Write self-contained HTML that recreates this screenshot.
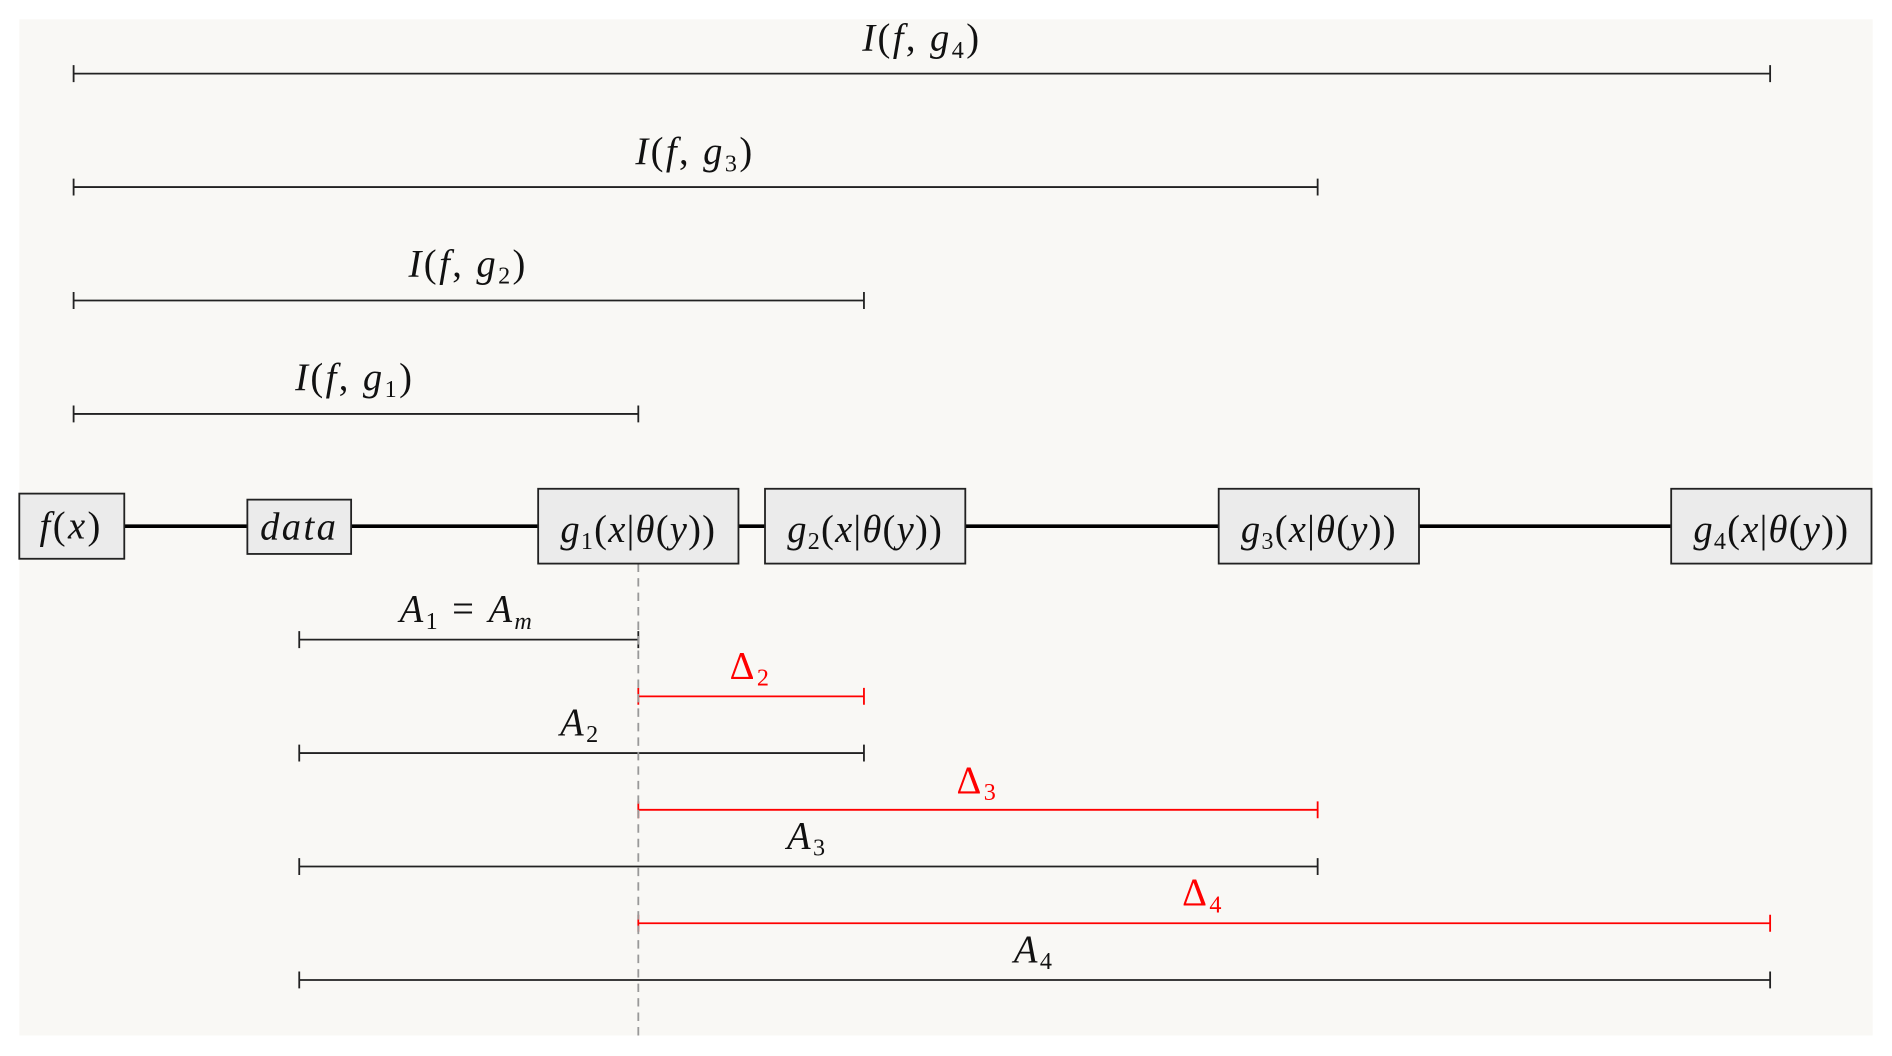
<!DOCTYPE html>
<html><head><meta charset="utf-8"><style>
html,body{margin:0;padding:0;background:#fff;}
svg{display:block;}
text{font-family:"Liberation Serif",serif;font-style:italic;font-size:32px;text-anchor:middle;letter-spacing:2px;}
.n{font-style:normal;}
</style></head><body>
<svg width="1892" height="1056" viewBox="0 0 1568 875" preserveAspectRatio="none" xmlns="http://www.w3.org/2000/svg">
<rect x="16" y="16" width="1536" height="842" fill="#f9f8f5"/>
<g stroke="#222" stroke-width="1.5" fill="none">
<path d="M61 61H1467M61 54V68M1467 54V68"/>
<path d="M61 155H1092M61 148V162M1092 148V162"/>
<path d="M61 249H716M61 242V256M716 242V256"/>
<path d="M61 343H529M61 336V350M529 336V350"/>
<path d="M248 530H529M248 523V537M529 523V537"/>
<path d="M248 624H716M248 617V631M716 617V631"/>
<path d="M248 718H1092M248 711V725M1092 711V725"/>
<path d="M248 812H1467M248 805V819M1467 805V819"/>
</g>
<g stroke="#f00" stroke-width="1.5" fill="none">
<path d="M529 577H716M529 570V584M716 570V584"/>
<path d="M529 671H1092M529 664V678M1092 664V678"/>
<path d="M529 765H1467M529 758V772M1467 758V772"/>
</g>
<line x1="529" y1="467" x2="529" y2="858" stroke="#999" stroke-width="1.5" stroke-dasharray="7,5"/>
<line x1="103" y1="436" x2="1385" y2="436" stroke="#000" stroke-width="3"/>
<g fill="#ebebeb" stroke="#222" stroke-width="1.5">
<rect x="16" y="409" width="87" height="54"/>
<rect x="205" y="414" width="86" height="45"/>
<rect x="446" y="405" width="166" height="62"/>
<rect x="634" y="405" width="166" height="62"/>
<rect x="1010" y="405" width="166" height="62"/>
<rect x="1385" y="405" width="166" height="62"/>
</g>
<g fill="#111">
<text x="59" y="446">f<tspan class="n">(</tspan>x<tspan class="n">)</tspan></text>
<text x="248" y="447">data</text>
<text x="529" y="449" style="letter-spacing:1px">g<tspan class="n" font-size="20" dy="6">1</tspan><tspan class="n" dy="-6">(</tspan>x<tspan class="n">|</tspan>θ<tspan class="n">(</tspan>y<tspan class="n">))</tspan></text>
<text x="717" y="449" style="letter-spacing:1px">g<tspan class="n" font-size="20" dy="6">2</tspan><tspan class="n" dy="-6">(</tspan>x<tspan class="n">|</tspan>θ<tspan class="n">(</tspan>y<tspan class="n">))</tspan></text>
<text x="1093" y="449" style="letter-spacing:1px">g<tspan class="n" font-size="20" dy="6">3</tspan><tspan class="n" dy="-6">(</tspan>x<tspan class="n">|</tspan>θ<tspan class="n">(</tspan>y<tspan class="n">))</tspan></text>
<text x="1468" y="449" style="letter-spacing:1px">g<tspan class="n" font-size="20" dy="6">4</tspan><tspan class="n" dy="-6">(</tspan>x<tspan class="n">|</tspan>θ<tspan class="n">(</tspan>y<tspan class="n">))</tspan></text>
<text x="764" y="42">I<tspan class="n">(</tspan>f<tspan class="n">, </tspan>g<tspan class="n" font-size="20" dy="6">4</tspan><tspan class="n" dy="-6">)</tspan></text>
<text x="576" y="136">I<tspan class="n">(</tspan>f<tspan class="n">, </tspan>g<tspan class="n" font-size="20" dy="6">3</tspan><tspan class="n" dy="-6">)</tspan></text>
<text x="388" y="229">I<tspan class="n">(</tspan>f<tspan class="n">, </tspan>g<tspan class="n" font-size="20" dy="6">2</tspan><tspan class="n" dy="-6">)</tspan></text>
<text x="294" y="323">I<tspan class="n">(</tspan>f<tspan class="n">, </tspan>g<tspan class="n" font-size="20" dy="6">1</tspan><tspan class="n" dy="-6">)</tspan></text>
<text x="387" y="515">A<tspan class="n" font-size="20" dy="6">1</tspan><tspan class="n" dy="-6"> = </tspan>A<tspan font-size="20" dy="6">m</tspan></text>
<text x="481" y="609">A<tspan class="n" font-size="20" dy="6">2</tspan></text>
<text x="669" y="703">A<tspan class="n" font-size="20" dy="6">3</tspan></text>
<text x="857" y="797">A<tspan class="n" font-size="20" dy="6">4</tspan></text>
</g>
<g fill="#f00">
<text class="n" x="622" y="562">Δ<tspan font-size="20" dy="6">2</tspan></text>
<text class="n" x="810" y="657">Δ<tspan font-size="20" dy="6">3</tspan></text>
<text class="n" x="997" y="750">Δ<tspan font-size="20" dy="6">4</tspan></text>
</g>
</svg>
</body></html>
